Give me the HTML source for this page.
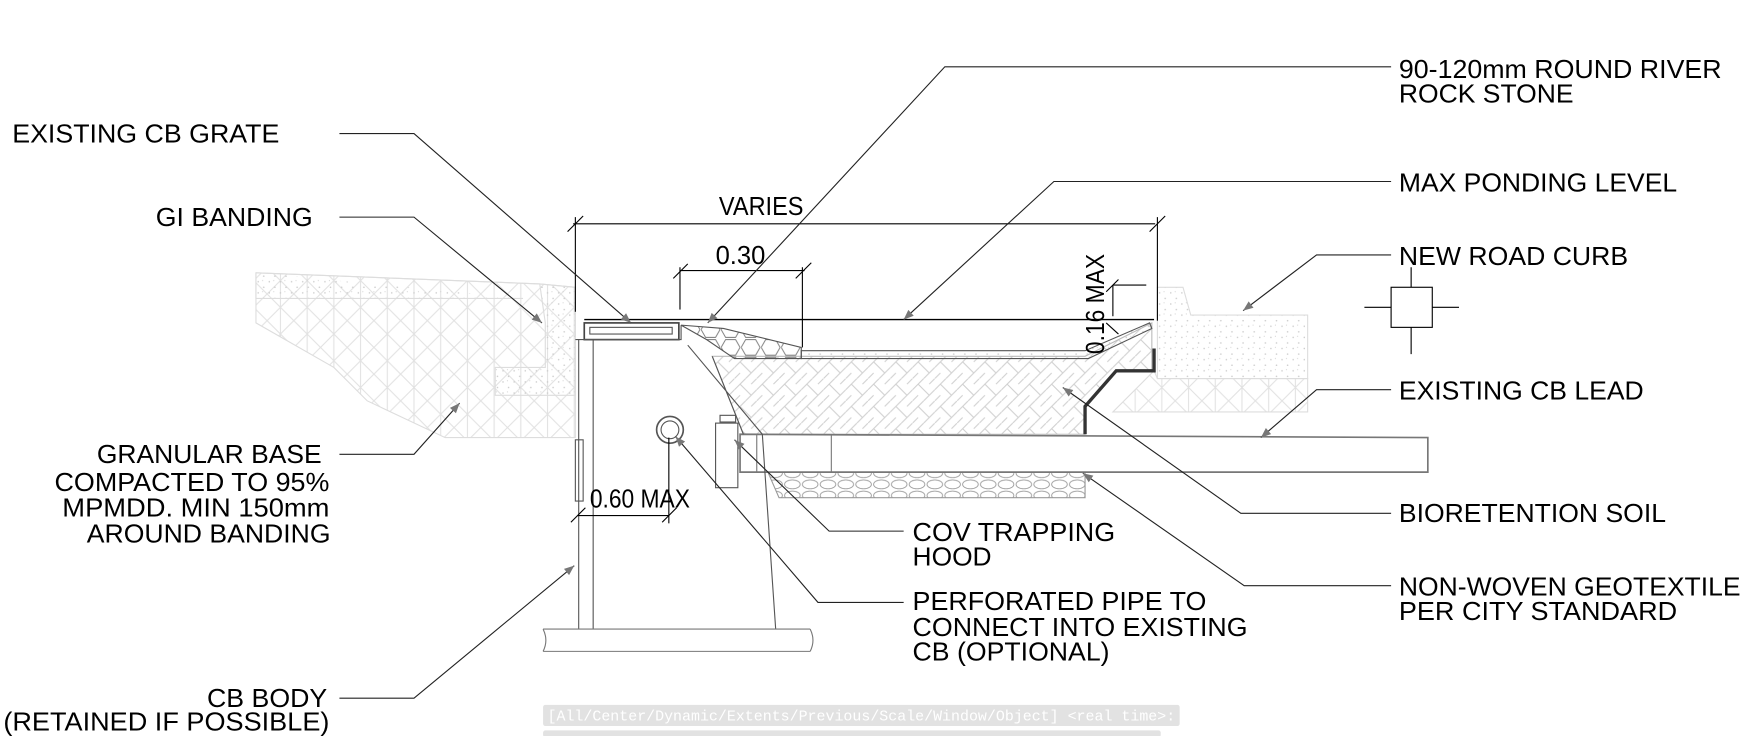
<!DOCTYPE html>
<html><head><meta charset="utf-8"><style>
html,body{margin:0;padding:0;background:#fff;width:1745px;height:736px;overflow:hidden}
svg{display:block}
text{font-family:"Liberation Sans",sans-serif;font-size:23px;fill:#000}
</style></head><body>
<svg width="1745" height="736" viewBox="0 0 1568 661" preserveAspectRatio="none" xmlns="http://www.w3.org/2000/svg">
<defs>
<marker id="a" viewBox="0 0 10 10" refX="10" refY="5" markerWidth="20" markerHeight="9" markerUnits="userSpaceOnUse" orient="auto"><path d="M0,1 L10,5 L0,9z" fill="#777"/></marker>
<pattern id="tri" width="24" height="24" patternUnits="userSpaceOnUse"><path d="M0,0 L24,24 M24,0 L0,24 M12,0 V24" stroke="#e2e2e2" stroke-width="1" fill="none"/></pattern>
<pattern id="dots" width="10" height="10" patternUnits="userSpaceOnUse"><circle cx="2" cy="3" r="0.7" fill="#ccc"/><circle cx="7" cy="8" r="0.7" fill="#ccc"/><circle cx="6" cy="2" r="0.5" fill="#ccc"/></pattern>
<pattern id="weave" width="20" height="20" patternUnits="userSpaceOnUse"><path d="M0,10 L10,0 M10,20 L20,10 M5,5 L15,15 M0,20 L5,15 M15,5 L20,0" stroke="#d0d0d0" fill="none"/></pattern>
<pattern id="hex" width="18" height="16" patternUnits="userSpaceOnUse"><path d="M0,8 L4,1 L13,1 L17,8 L13,15 L4,15z" stroke="#777" fill="none" stroke-width="0.8"/></pattern>
<pattern id="rock" width="16" height="10" patternUnits="userSpaceOnUse"><ellipse cx="8" cy="5" rx="7" ry="4" stroke="#999" fill="none" stroke-width="0.8"/></pattern>
</defs>

<!-- left road -->
<path d="M230,245 L485,255 L517,258 L517,393 L400,393 L330,360 L300,330 L230,290z" fill="url(#tri)" stroke="#ddd"/>
<path d="M230,245 L485,255 L490,290 L490,330 L445,330 L445,355 L517,355 L517,258 L485,255 M230,245 L230,268 L470,268" fill="url(#dots)" stroke="#ddd"/>
<!-- right road -->
<path d="M1040,258 L1063,258 L1070,283 L1175,283 L1175,340 L1040,340z" fill="url(#dots)" stroke="#ddd"/>
<path d="M1040,340 L1175,340 L1175,370 L1000,370 L1037,333z" fill="url(#tri)" stroke="#ddd"/>
<!-- soil -->
<path d="M640,320 L720,320 L975,320 L1035,290 L1035,333 L1003,333 L975,365 L975,390 L668,390z" fill="url(#weave)" stroke="#bbb"/>
<path d="M612,292 L650,295 L720,312 L720,322 L660,322 L635,305z" fill="url(#hex)" stroke="#555"/>
<path d="M720,315 L975,315 L1033,290 L1035,295 L978,322 L720,322z" fill="url(#dots)" stroke="#555"/>
<!-- rock below pipe -->
<path d="M690,424 L975,424 L975,447 L700,447z" fill="url(#rock)" stroke="#999"/>
<!-- pipe -->
<path d="M665,390 L1283,393 L1283,424 L665,424z" fill="#fff" stroke="#777" stroke-width="1.5"/>
<line x1="680" y1="390" x2="680" y2="424" stroke="#777"/><line x1="747" y1="390" x2="747" y2="424" stroke="#777"/>
<!-- curb -->
<path d="M1037,313 L1037,333 L1003,333 L975,365 L975,390" fill="none" stroke="#333" stroke-width="3"/>
<!-- CB body -->
<rect x="525" y="290" width="85" height="15" fill="#fff" stroke="#444" stroke-width="1.5"/>
<rect x="530" y="294" width="74" height="6" fill="none" stroke="#555"/>
<path d="M517,305 L612,305 L612,292 M618,310 L685,390 L697,565 M640,320 L668,390" fill="none" stroke="#555"/>
<line x1="520" y1="305" x2="520" y2="565" stroke="#555"/>
<line x1="533" y1="305" x2="533" y2="565" stroke="#555"/>
<rect x="517" y="395" width="7" height="55" fill="none" stroke="#555"/>
<path d="M488,565 L728,565 M488,585 L728,585 M488,565 Q493,575 488,585 M728,565 Q733,575 728,585" fill="none" stroke="#777"/>
<circle cx="602" cy="386" r="12" fill="none" stroke="#555" stroke-width="1.5"/><circle cx="602" cy="386" r="8" fill="none" stroke="#555"/>
<rect x="643" y="380" width="20" height="58" fill="none" stroke="#555"/><rect x="647" y="373" width="14" height="6" fill="none" stroke="#555"/>
<!-- ponding and dims -->
<line x1="525" y1="287" x2="1037" y2="287" stroke="#000" stroke-width="1.2"/>
<g stroke="#000" stroke-width="1" fill="none">
<line x1="515" y1="201" x2="1038" y2="201"/><line x1="517" y1="195" x2="517" y2="280"/><line x1="1040" y1="195" x2="1040" y2="288"/>
<line x1="510" y1="208" x2="524" y2="194"/><line x1="1033" y1="208" x2="1047" y2="194"/>
<line x1="611" y1="243" x2="723" y2="243"/><line x1="611" y1="240" x2="611" y2="278"/><line x1="721" y1="240" x2="721" y2="312"/>
<line x1="605" y1="250" x2="618" y2="237"/><line x1="715" y1="250" x2="729" y2="236"/>
<line x1="519" y1="463" x2="601" y2="463"/><line x1="601" y1="393" x2="601" y2="470"/><line x1="513" y1="469" x2="526" y2="456"/><line x1="595" y1="469" x2="608" y2="456"/>
<line x1="1000" y1="284" x2="1000" y2="256"/><line x1="1000" y1="256" x2="1030" y2="256"/>
<line x1="994" y1="262" x2="1005" y2="251"/><line x1="994" y1="290" x2="1005" y2="300"/>
</g>
<!-- symbol -->
<rect x="1250" y="258" width="37" height="36" fill="none" stroke="#000"/>
<path d="M1226,276 H1250 M1287,276 H1311 M1268,240 V258 M1268,294 V318" stroke="#000"/>
<!-- leaders -->
<g stroke="#222" stroke-width="1" fill="none" marker-end="url(#a)">
<path d="M305,120 H372 L567,290"/>
<path d="M305,195 H372 L487,290"/>
<path d="M305,408 H372 L413,362"/>
<path d="M305,627 H372 L516,508"/>
<path d="M1250,60 H849 L636,290"/>
<path d="M1250,163 H947 L812,287"/>
<path d="M1250,229 H1183 L1117,279"/>
<path d="M1250,350 H1183 L1133,393"/>
<path d="M1250,461 H1115 L955,348"/>
<path d="M1250,526 H1118 L973,425"/>
<path d="M812,477 H745 L660,395"/>
<path d="M812,541 H735 L607,392"/>
</g>
<!-- text -->
<g>
<text x="11" y="128" textLength="240" lengthAdjust="spacingAndGlyphs">EXISTING CB GRATE</text>
<text x="140" y="203" textLength="141" lengthAdjust="spacingAndGlyphs">GI BANDING</text>
<text x="87" y="416" textLength="202" lengthAdjust="spacingAndGlyphs">GRANULAR BASE</text>
<text x="49" y="441" textLength="247" lengthAdjust="spacingAndGlyphs">COMPACTED TO 95%</text>
<text x="56" y="464" textLength="240" lengthAdjust="spacingAndGlyphs">MPMDD.  MIN 150mm</text>
<text x="78" y="487" textLength="219" lengthAdjust="spacingAndGlyphs">AROUND BANDING</text>
<text x="186" y="635" textLength="108" lengthAdjust="spacingAndGlyphs">CB BODY</text>
<text x="3" y="656" textLength="293" lengthAdjust="spacingAndGlyphs">(RETAINED IF POSSIBLE)</text>
<text x="1257" y="70" textLength="290" lengthAdjust="spacingAndGlyphs">90-120mm ROUND RIVER</text>
<text x="1257" y="92" textLength="157" lengthAdjust="spacingAndGlyphs">ROCK STONE</text>
<text x="1257" y="172" textLength="250" lengthAdjust="spacingAndGlyphs">MAX PONDING LEVEL</text>
<text x="1257" y="238" textLength="206" lengthAdjust="spacingAndGlyphs">NEW ROAD CURB</text>
<text x="1257" y="359" textLength="220" lengthAdjust="spacingAndGlyphs">EXISTING CB LEAD</text>
<text x="1257" y="469" textLength="240" lengthAdjust="spacingAndGlyphs">BIORETENTION SOIL</text>
<text x="1257" y="535" textLength="307" lengthAdjust="spacingAndGlyphs">NON-WOVEN GEOTEXTILE</text>
<text x="1257" y="557" textLength="250" lengthAdjust="spacingAndGlyphs">PER CITY STANDARD</text>
<text x="820" y="486" textLength="182" lengthAdjust="spacingAndGlyphs">COV TRAPPING</text>
<text x="820" y="508" textLength="71" lengthAdjust="spacingAndGlyphs">HOOD</text>
<text x="820" y="548" textLength="264" lengthAdjust="spacingAndGlyphs">PERFORATED PIPE TO</text>
<text x="820" y="571" textLength="301" lengthAdjust="spacingAndGlyphs">CONNECT INTO EXISTING</text>
<text x="820" y="593" textLength="177" lengthAdjust="spacingAndGlyphs">CB (OPTIONAL)</text>
<text x="646" y="193" font-size="20" textLength="76" lengthAdjust="spacingAndGlyphs">VARIES</text>
<text x="643" y="237" font-size="20">0.30</text>
<text x="530" y="456" font-size="20" textLength="90" lengthAdjust="spacingAndGlyphs">0.60 MAX</text>
<text transform="translate(992,318) rotate(-90)" font-size="20" textLength="90" lengthAdjust="spacingAndGlyphs">0.16 MAX</text>
</g>
<!-- command line -->
<rect x="488" y="633" width="572" height="19" rx="2" fill="#e2e2e2"/>
<text x="492" y="647" style="fill:#fff;font-family:'Liberation Mono',monospace;font-size:13px" textLength="564" lengthAdjust="spacingAndGlyphs">[All/Center/Dynamic/Extents/Previous/Scale/Window/Object] &lt;real time&gt;:</text>
<rect x="488" y="656" width="555" height="6" rx="2" fill="#e2e2e2"/>
</svg>
</body></html>
